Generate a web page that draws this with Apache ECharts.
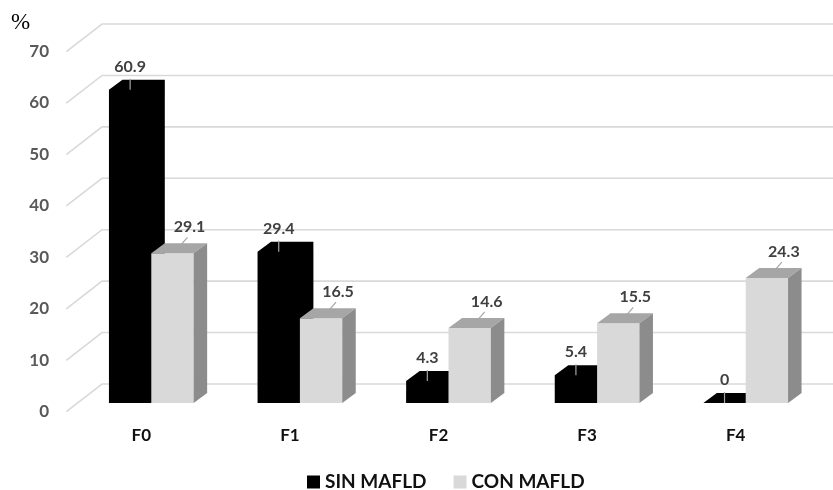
<!DOCTYPE html>
<html>
<head>
<meta charset="utf-8">
<style>html,body{margin:0;padding:0;background:#fff;}#c{width:833px;height:490px;}</style>
<script src="https://cdn.jsdelivr.net/npm/echarts@6/dist/echarts.min.js"></script>
</head>
<body>
<div id="c"></div>
<script>
const categories = ['F0', 'F1', 'F2', 'F3', 'F4'];
const sinMafld = [60.9, 29.4, 4.3, 5.4, 0];
const conMafld = [29.1, 16.5, 14.6, 15.5, 24.3];
const yTicks = [0, 10, 20, 30, 40, 50, 60, 70];

const chart = echarts.init(document.getElementById('c'));
const DX = 13.5, DY = -10;          // bar depth offset
const FRONT_DX = -10.7, FRONT_DY = 8.7; // floor front edge relative to bar plane
const BACK_DX = 25, BACK_DY = -19;      // back wall relative to bar plane
const FONT = 'Lato';

function gridItem(params, api) {
  const y = api.coord([0, api.value(1)])[1];
  const cs = params.coordSys;
  return {
    type: 'polyline',
    shape: { points: [[cs.x + FRONT_DX, y + FRONT_DY], [cs.x + BACK_DX, y + BACK_DY], [cs.x + cs.width + 14, y + BACK_DY]] },
    style: { stroke: '#d9d9d9', lineWidth: 1.6, fill: null }
  };
}

function sinItem(params, api) {
  const i = api.value(0), v = api.value(1);
  const top = api.coord([i, v]);
  const base = api.coord([i, 0]);
  const w = api.size([1, 0])[0] * 0.285;
  const cx = top[0], yt = top[1], y0 = base[1];
  const lx = cx - w / 2;
  return {
    type: 'group',
    children: [
      { type: 'polygon', shape: { points: [[cx - w, y0], [cx - w, yt], [cx - w + DX, yt + DY], [cx + DX, yt + DY], [cx + DX, y0 + DY], [cx, y0]] },
        style: { fill: '#000000' } },
      { type: 'line', shape: { x1: lx, y1: yt - 11, x2: lx, y2: yt }, style: { stroke: '#a6a6a6', lineWidth: 1.2 } },
      { type: 'text', style: { text: String(v), x: lx, y: yt - 23, align: 'center', verticalAlign: 'middle',
        fontSize: 16, fontWeight: 'bold', fontFamily: FONT, fill: '#404040' } }
    ]
  };
}

function conItem(params, api) {
  const i = api.value(0), v = api.value(1);
  const top = api.coord([i, v]);
  const base = api.coord([i, 0]);
  const w = api.size([1, 0])[0] * 0.285;
  const cx = top[0], yt = top[1], y0 = base[1];
  const gx = cx + w / 2;
  return {
    type: 'group',
    children: [
      { type: 'rect', shape: { x: cx, y: yt, width: w, height: y0 - yt }, style: { fill: '#d9d9d9' } },
      { type: 'polygon', shape: { points: [[cx, yt], [cx + DX, yt + DY], [cx + w + DX, yt + DY], [cx + w, yt]] }, style: { fill: '#a6a6a6' } },
      { type: 'polygon', shape: { points: [[cx + w, yt], [cx + w + DX, yt + DY], [cx + w + DX, y0 + DY], [cx + w, y0]] }, style: { fill: '#8c8c8c' } },
      { type: 'line', shape: { x1: gx + 8, y1: yt - 8, x2: gx + 15, y2: yt - 16 }, style: { stroke: '#a6a6a6', lineWidth: 1.2 } },
      { type: 'text', style: { text: String(v), x: gx + 17, y: yt - 26, align: 'center', verticalAlign: 'middle',
        fontSize: 16, fontWeight: 'bold', fontFamily: FONT, fill: '#404040' } }
    ]
  };
}

chart.setOption({
  animation: false,
  backgroundColor: '#ffffff',
  title: { text: '%', left: 11, top: 11, padding: 0, textStyle: { fontFamily: 'Liberation Serif', fontSize: 23, lineHeight: 23, fontWeight: 'normal', color: '#000' } },
  legend: {
    data: ['SIN MAFLD', 'CON MAFLD'],
    left: 307, top: 472, padding: 0,
    icon: 'rect', itemWidth: 13, itemHeight: 13, itemGap: 27,
    textStyle: { fontFamily: FONT, fontSize: 19, lineHeight: 20, fontWeight: 'bold', color: '#111111' }
  },
  grid: { left: 77, right: 13, top: 43, bottom: 87 },
  xAxis: {
    type: 'category', data: categories,
    axisLine: { show: false }, axisTick: { show: false },
    axisLabel: { margin: 24, fontFamily: FONT, fontSize: 17, fontWeight: 'bold', color: '#111111', padding: [0, 20, 0, 0] }
  },
  yAxis: {
    type: 'value', min: 0, max: 70, interval: 10,
    axisLine: { show: false }, axisTick: { show: false }, splitLine: { show: false },
    axisLabel: { margin: 28, fontFamily: FONT, fontSize: 17, lineHeight: 17, verticalAlign: 'top', fontWeight: 'bold', color: '#595959' }
  },
  series: [
    { type: 'custom', name: 'grid', silent: true, clip: false, z: 1, renderItem: gridItem,
      data: yTicks.map(v => [0, v]) },
    { type: 'custom', name: 'SIN MAFLD', clip: false, z: 2, renderItem: sinItem, itemStyle: { color: '#000000' },
      data: sinMafld.map((v, i) => [i, v]) },
    { type: 'custom', name: 'CON MAFLD', clip: false, z: 3, renderItem: conItem, itemStyle: { color: '#d9d9d9' },
      data: conMafld.map((v, i) => [i, v]) }
  ]
});
</script>
</body>
</html>
